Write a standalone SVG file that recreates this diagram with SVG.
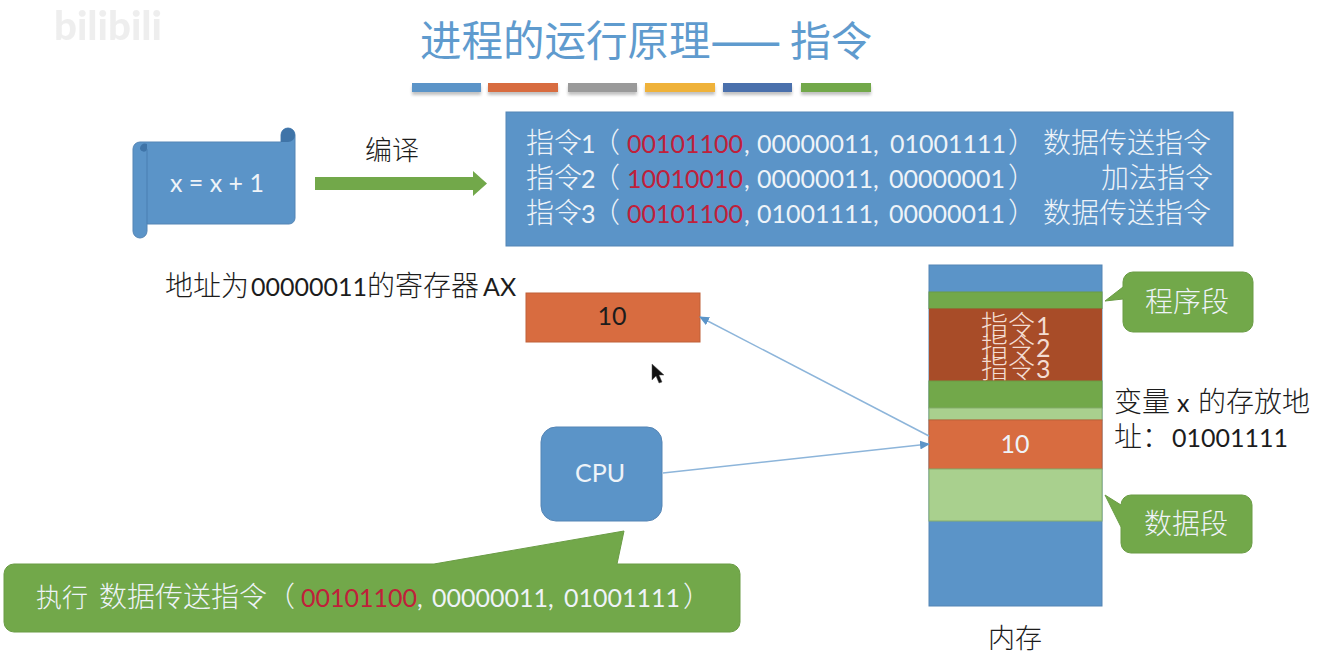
<svg xmlns="http://www.w3.org/2000/svg" width="1317" height="663" viewBox="0 0 1317 663">
<defs>
<style>
text{font-family:"Lato","Noto Sans CJK SC",sans-serif;}
.c{font-family:"Noto Sans CJK SC",sans-serif;font-size:28px;font-weight:300;}
.l{font-family:"Lato","Noto Sans CJK SC",sans-serif;font-size:25px;}
.r{font-family:"Lato",sans-serif;font-size:25px;fill:#c0203a;}
.w{fill:#eef3f8;}
.k{fill:#1c1c1c;}
.m{text-anchor:middle;}
.tt{font-family:"Noto Sans CJK SC",sans-serif;font-size:41.500px;font-weight:400;fill:#5f9bce;}
.blue{fill:#5b94c8;stroke:#5585b5;stroke-width:1;}
.green{fill:#72a84a;stroke:#6a9c45;stroke-width:1;}
.lg{fill:#a9d08e;stroke:#86ad6c;stroke-width:1;}
.or{fill:#d86c40;stroke:#bf6038;stroke-width:1;}
.conn{fill:none;stroke:#8db5da;stroke-width:1.500;}
</style>
<filter id="sh" x="-10%" y="-60%" width="120%" height="260%"><feGaussianBlur stdDeviation="1.500"/></filter>
<clipPath id="brownClip"><rect x="929" y="308" width="173" height="73"/></clipPath>
<marker id="ah" markerWidth="10" markerHeight="9" refX="9" refY="4.500" orient="auto" markerUnits="userSpaceOnUse"><path d="M0 0L10 4.500L0 9Z" fill="#5b94c8"/></marker>
</defs>
<rect width="1317" height="663" fill="#ffffff"/>

<g id="watermark" opacity="0.85"><text x="54" y="40" font-size="40" font-weight="900" fill="#ececec" textLength="108" lengthAdjust="spacingAndGlyphs">bilibili</text></g>

<g id="title">
<text y="56"><tspan x="420" class="tt">进程的运行原理</tspan><tspan x="711" class="tt" stroke="#5f9bce" stroke-width="1">——</tspan><tspan x="790" class="tt" style="font-size:41px">指令</tspan></text>
<g fill="#999" filter="url(#sh)" opacity="0.6">
<rect x="412" y="86" width="69" height="9"/><rect x="488" y="86" width="70" height="9"/><rect x="568" y="86" width="69" height="9"/><rect x="645" y="86" width="70" height="9"/><rect x="723" y="86" width="69" height="9"/><rect x="801" y="86" width="70" height="9"/>
</g>
<rect x="412" y="83" width="69" height="9" fill="#5b94c8"/>
<rect x="488" y="83" width="70" height="9" fill="#d86c40"/>
<rect x="568" y="83" width="69" height="9" fill="#9a9a9a"/>
<rect x="645" y="83" width="70" height="9" fill="#efb23a"/>
<rect x="723" y="83" width="69" height="9" fill="#4a70ac"/>
<rect x="801" y="83" width="70" height="9" fill="#72a84a"/>
</g>

<g id="scroll">
<path class="blue" d="M141 142H281V135a7 7 0 0 1 14 0V218a6 6 0 0 1-6 6H147V231a7 7 0 0 1-14 0V149a7 7 0 0 1 7-7Z"/>
<path d="M281 142V135a7 7 0 0 1 14 0a7 7 0 0 1-7 7Z" fill="#3f74a8"/>
<path d="M140 149a5 5 0 0 1 7-5V150a4 4 0 0 1-7-1Z" fill="#3f74a8"/>
<path d="M147 149V224" fill="none" stroke="#4a7fb2"/>
<text x="217" y="192" class="l w m">x = x + 1</text>
</g>

<g id="compile-arrow">
<path d="M315 177H473V171L487 183.500L473 196V190H315Z" fill="#72a84a"/>
<text x="365" y="160" class="c k" style="font-size:27px">编译</text>
</g>

<g id="instructions">
<rect x="506" y="112" width="727" height="134" class="blue"/>
<text y="153"><tspan x="526" class="c w">指令</tspan><tspan x="581" class="l w">1</tspan><tspan x="592" class="c w">（</tspan><tspan x="627" class="r">00101100</tspan><tspan x="744" class="l w">,</tspan><tspan x="757" class="l w">00000011,</tspan><tspan x="890" class="l w">01001111</tspan><tspan x="1008" class="c w">）</tspan><tspan x="1043" class="c w">数据传送指令</tspan></text>
<text y="188"><tspan x="526" class="c w">指令</tspan><tspan x="581" class="l w">2</tspan><tspan x="592" class="c w">（</tspan><tspan x="627" class="r">10010010</tspan><tspan x="744" class="l w">,</tspan><tspan x="757" class="l w">00000011,</tspan><tspan x="889" class="l w">00000001</tspan><tspan x="1008" class="c w">）</tspan><tspan x="1101" class="c w">加法指令</tspan></text>
<text y="223"><tspan x="526" class="c w">指令</tspan><tspan x="581" class="l w">3</tspan><tspan x="592" class="c w">（</tspan><tspan x="627" class="r">00101100</tspan><tspan x="744" class="l w">,</tspan><tspan x="757" class="l w">01001111,</tspan><tspan x="889" class="l w">00000011</tspan><tspan x="1008" class="c w">）</tspan><tspan x="1043" class="c w">数据传送指令</tspan></text>
</g>

<g id="register">
<text y="296"><tspan x="165" class="c k">地址为</tspan><tspan x="251" class="l k">00000011</tspan><tspan x="367" class="c k">的寄存器</tspan><tspan x="483" class="l k">AX</tspan></text>
<rect x="526" y="293" width="174" height="49" class="or"/>
<text x="612" y="325" class="l k m">10</text>
</g>

<g id="memory">
<rect x="929" y="265" width="173" height="341" class="blue"/>
<rect x="929" y="292" width="173" height="16.500" class="green"/>
<rect x="929" y="308.500" width="173" height="72.500" fill="#a84c28"/>
<rect x="929" y="381" width="173" height="27" class="green"/>
<rect x="929" y="408" width="173" height="12" class="lg"/>
<rect x="929" y="420" width="173" height="49" class="or"/>
<rect x="929" y="469" width="173" height="52" class="lg"/>
<g clip-path="url(#brownClip)" fill="#f3dcd2">
<text y="335"><tspan x="981" class="c" style="font-size:27px">指令</tspan><tspan x="1036" class="l">1</tspan></text>
<text y="357"><tspan x="981" class="c" style="font-size:27px">指令</tspan><tspan x="1036" class="l">2</tspan></text>
<text y="378"><tspan x="981" class="c" style="font-size:27px">指令</tspan><tspan x="1036" class="l">3</tspan></text>
</g>
<text x="1015" y="453" class="l w m">10</text>
<text x="988" y="648" class="c k" style="font-size:27px">内存</text>
</g>

<g id="var-label">
<text y="412"><tspan x="1114" class="c k">变量</tspan><tspan x="1177" class="l k">x</tspan><tspan x="1198" class="c k">的存放地</tspan></text>
<text y="447"><tspan x="1114" class="c k">址：</tspan><tspan x="1172" class="l k">01001111</tspan></text>
</g>

<g id="program-callout">
<path class="green" d="M1133 272H1243a10 10 0 0 1 10 10V322a10 10 0 0 1-10 10H1133a10 10 0 0 1-10-10V299L1105 301L1123 287V282a10 10 0 0 1 10-10Z"/>
<text x="1145" y="312" class="c w">程序段</text>
</g>

<g id="data-callout">
<path class="green" d="M1131 495H1242a10 10 0 0 1 10 10V543a10 10 0 0 1-10 10H1131a10 10 0 0 1-10-10V527L1105 495L1121 505a10 10 0 0 1 10-10Z"/>
<text x="1144" y="534" class="c w">数据段</text>
</g>

<g id="cpu">
<rect x="541" y="427" width="121" height="94" rx="15" class="blue"/>
<text x="600" y="482" class="l w m">CPU</text>
</g>

<g id="exec-callout">
<path class="green" d="M14 564H434L624 531L617 564H730a10 10 0 0 1 10 10V622a10 10 0 0 1-10 10H14a10 10 0 0 1-10-10V574a10 10 0 0 1 10-10Z"/>
<text y="607"><tspan x="36" class="c w" style="font-size:26px">执行</tspan><tspan x="99" class="c w">数据传送指令</tspan><tspan x="267" class="c w">（</tspan><tspan x="301" class="r">00101100</tspan><tspan x="417" class="l w">,</tspan><tspan x="432" class="l w">00000011,</tspan><tspan x="564" class="l w">01001111</tspan><tspan x="683" class="c w">）</tspan></text>
</g>

<g id="connectors">
<path class="conn" d="M929 436L700 317" marker-end="url(#ah)"/>
<path class="conn" d="M663 473L929 444" marker-end="url(#ah)"/>
</g>

<g id="cursor"><path d="M652 364V380L656 376L659 383L662 382L659 375H664Z" fill="#111" stroke="#555" stroke-width="0.500"/></g>
</svg>
